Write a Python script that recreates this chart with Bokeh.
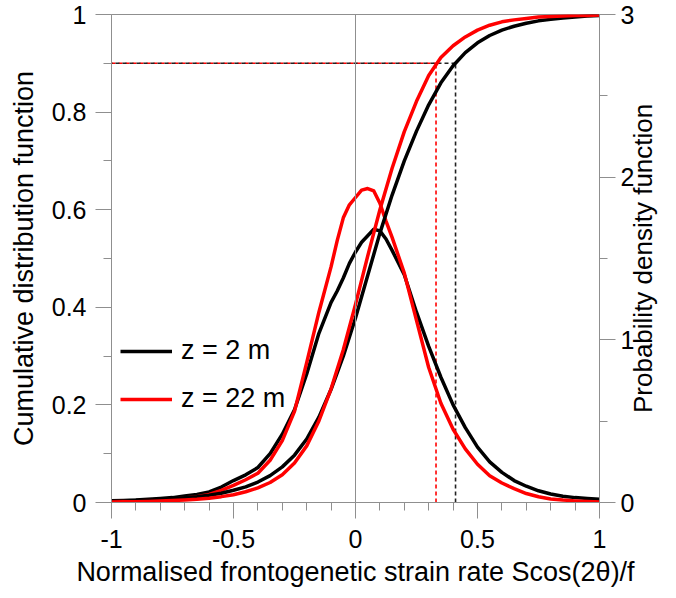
import math
from bokeh.plotting import figure
from bokeh.models import (Range1d, LinearAxis, Span, Legend, LegendItem,
                          FixedTicker)
from bokeh.embed import file_html
from bokeh.resources import INLINE

# ---------------- data ----------------
x_grid = [-1.00, -0.95, -0.90, -0.85, -0.80, -0.75, -0.70, -0.65, -0.60, -0.55,
          -0.50, -0.45, -0.40, -0.35, -0.30, -0.25, -0.20, -0.15, -0.10, -0.05,
          0.00, 0.05, 0.10, 0.15, 0.20, 0.25, 0.30, 0.35, 0.40, 0.45,
          0.50, 0.55, 0.60, 0.65, 0.70, 0.75, 0.80, 0.85, 0.90, 0.95, 1.00]

cdf_z2 = [0.002, 0.003, 0.004, 0.005, 0.006, 0.008, 0.010, 0.012, 0.015, 0.019,
          0.025, 0.032, 0.042, 0.055, 0.073, 0.097, 0.130, 0.175, 0.232, 0.300,
          0.378, 0.465, 0.552, 0.630, 0.700, 0.761, 0.815, 0.860, 0.895, 0.922,
          0.942, 0.957, 0.968, 0.976, 0.982, 0.987, 0.990, 0.993, 0.995, 0.997, 0.998]

cdf_z22 = [0.001, 0.0013, 0.0017, 0.0022, 0.003, 0.004, 0.005, 0.0065, 0.0087, 0.012,
           0.016, 0.022, 0.030, 0.041, 0.057, 0.081, 0.116, 0.167, 0.233, 0.313,
           0.406, 0.505, 0.600, 0.685, 0.760, 0.822, 0.875, 0.912, 0.936, 0.954,
           0.968, 0.978, 0.985, 0.989, 0.992, 0.995, 0.996, 0.997, 0.998, 0.998, 0.999]

x_pdf = [-1.00, -0.95, -0.90, -0.85, -0.80, -0.75, -0.70, -0.65, -0.60, -0.55,
         -0.50, -0.45, -0.40, -0.35, -0.30, -0.25, -0.20, -0.15, -0.10, -0.075,
         -0.05, -0.025, 0.000, 0.025, 0.050, 0.075, 0.100, 0.125, 0.150,
         0.20, 0.25, 0.30, 0.35, 0.40, 0.45, 0.50, 0.55, 0.60, 0.65, 0.70,
         0.75, 0.80, 0.85, 0.90, 0.95, 1.00]

pdf_z2 = [0.010, 0.012, 0.015, 0.020, 0.025, 0.030, 0.040, 0.050, 0.065, 0.095,
          0.135, 0.170, 0.215, 0.300, 0.420, 0.570, 0.790, 1.040, 1.230, 1.300,
          1.380, 1.470, 1.540, 1.600, 1.640, 1.680, 1.670, 1.620, 1.550,
          1.400, 1.170, 0.960, 0.770, 0.600, 0.460, 0.340, 0.250, 0.185, 0.135, 0.100,
          0.072, 0.052, 0.038, 0.030, 0.025, 0.020]

pdf_z22 = [0.005, 0.007, 0.009, 0.012, 0.016, 0.020, 0.027, 0.035, 0.050, 0.075,
           0.105, 0.140, 0.180, 0.260, 0.380, 0.560, 0.860, 1.170, 1.450, 1.610,
           1.750, 1.830, 1.875, 1.920, 1.930, 1.915, 1.840, 1.730, 1.630,
           1.410, 1.120, 0.830, 0.610, 0.450, 0.330, 0.235, 0.165, 0.120, 0.085, 0.055,
           0.035, 0.022, 0.015, 0.010, 0.006, 0.003]

quantile_level = 0.9
q90_z2 = 0.41
q90_z22 = 0.33

x_ticks = [-1, -0.5, 0, 0.5, 1]
x_tick_labels = ["-1", "-0.5", "0", "0.5", "1"]
x_minor = [-0.9, -0.8, -0.7, -0.6, -0.4, -0.3, -0.2, -0.1,
           0.1, 0.2, 0.3, 0.4, 0.6, 0.7, 0.8, 0.9]
y_ticks = [0, 0.2, 0.4, 0.6, 0.8, 1]
y_tick_labels = ["0", "0.2", "0.4", "0.6", "0.8", "1"]
y_minor = [0.1, 0.3, 0.5, 0.7, 0.9]
y2_ticks = [0, 1, 2, 3]
y2_tick_labels = ["0", "1", "2", "3"]
y2_minor = [0.5, 1.5, 2.5]

x_title = "Normalised frontogenetic strain rate Scos(2θ)/f"
y_title = "Cumulative distribution function"
y2_title = "Probability density function"
series_labels = ["z = 2 m", "z = 22 m"]

# ---------------- styling ----------------
FONT = "Liberation Sans"
AXIS_GREY = "#8f8f8f"
RED = "#ff0000"
TICK_SIZE = "25px"
TITLE_SIZE = "27px"

p = figure(width=676, height=598, x_range=Range1d(-1, 1), y_range=Range1d(0, 1),
           output_backend="svg", toolbar_location=None,
           min_border_left=111, min_border_right=77, min_border_top=14,
           min_border_bottom=96)
p.extra_y_ranges = {"pdf": Range1d(0, 3)}
p.grid.visible = False
p.outline_line_color = AXIS_GREY
p.outline_line_width = 1
p.background_fill_color = "white"
p.border_fill_color = "white"


def style_axis(ax, ticks, labels, minor, standoff, title, title_standoff):
    ax.ticker = FixedTicker(ticks=ticks, minor_ticks=minor)
    ax.major_label_overrides = {t: l for t, l in zip(ticks, labels)}
    ax.axis_line_color = AXIS_GREY
    ax.major_tick_line_color = AXIS_GREY
    ax.minor_tick_line_color = AXIS_GREY
    ax.major_tick_in = 0
    ax.major_tick_out = 16
    ax.minor_tick_in = 0
    ax.minor_tick_out = 8
    ax.major_label_text_font = FONT
    ax.major_label_text_font_size = TICK_SIZE
    ax.major_label_text_color = "black"
    ax.major_label_standoff = standoff
    ax.axis_label = title
    ax.axis_label_text_font = FONT
    ax.axis_label_text_font_size = TITLE_SIZE
    ax.axis_label_text_font_style = "normal"
    ax.axis_label_text_color = "black"
    ax.axis_label_standoff = title_standoff


style_axis(p.xaxis[0], x_ticks, x_tick_labels, x_minor, 11, x_title, 6)
style_axis(p.yaxis[0], y_ticks, y_tick_labels, y_minor, 9, y_title, 10)

# right axis with the PDF scale (numbers only)
ax2 = LinearAxis(y_range_name="pdf")
style_axis(ax2, y2_ticks, y2_tick_labels, y2_minor, 5, None, 0)
p.add_layout(ax2, "right")

# right title drawn as a single rotated label of a bare outer axis,
# anchored at the lower end so that it reads bottom-to-top like the reference
title_anchor = 0.55  # position (PDF units) where the rotated text starts
ax3 = LinearAxis(y_range_name="pdf")
ax3.ticker = FixedTicker(ticks=[title_anchor], minor_ticks=[])
ax3.major_label_overrides = {title_anchor: y2_title}
ax3.major_label_orientation = math.pi / 2
ax3.major_label_text_font = FONT
ax3.major_label_text_font_size = "26px"
ax3.major_label_text_color = "black"
ax3.major_label_standoff = 6
ax3.axis_line_color = None
ax3.major_tick_line_color = None
ax3.minor_tick_line_color = None
ax3.major_tick_in = 0
ax3.major_tick_out = 0
ax3.minor_tick_in = 0
ax3.minor_tick_out = 0
p.add_layout(ax3, "right")

p.add_layout(Span(location=0, dimension="height", line_color=AXIS_GREY, line_width=1))

# dashed 90% quantile guides
p.line([-1, q90_z22], [quantile_level, quantile_level], line_color=RED,
       line_width=1.6, line_dash="4 3")
p.line([-1, q90_z2], [quantile_level, quantile_level], line_color="#222222",
       line_width=1.6, line_dash="4 3", line_dash_offset=3)
p.line([q90_z22, q90_z22], [0, quantile_level], line_color=RED,
       line_width=1.6, line_dash="4 3")
p.line([q90_z2, q90_z2], [0, quantile_level], line_color="#222222",
       line_width=1.6, line_dash="4 3")

# PDFs (right axis)
p.line(x_pdf, pdf_z2, y_range_name="pdf", line_color="black", line_width=3.5,
       line_join="round")
p.line(x_pdf, pdf_z22, y_range_name="pdf", line_color=RED, line_width=3.5,
       line_join="round")
# CDFs (left axis)
r2 = p.line(x_grid, cdf_z2, line_color="black", line_width=3.5, line_join="round")
r22 = p.line(x_grid, cdf_z22, line_color=RED, line_width=3.5, line_join="round")

legend = Legend(items=[LegendItem(label=series_labels[0], renderers=[r2]),
                       LegendItem(label=series_labels[1], renderers=[r22])],
                location=(9, 88), orientation="vertical")
legend.border_line_color = None
legend.background_fill_alpha = 0
legend.padding = 0
legend.margin = 0
legend.spacing = 17
legend.glyph_width = 52
legend.glyph_height = 30
legend.label_height = 30
legend.label_standoff = 9
legend.label_text_font = FONT
legend.label_text_font_size = TITLE_SIZE
legend.label_text_color = "black"
p.add_layout(legend)

open("out.html", "w").write(file_html(p, INLINE))
